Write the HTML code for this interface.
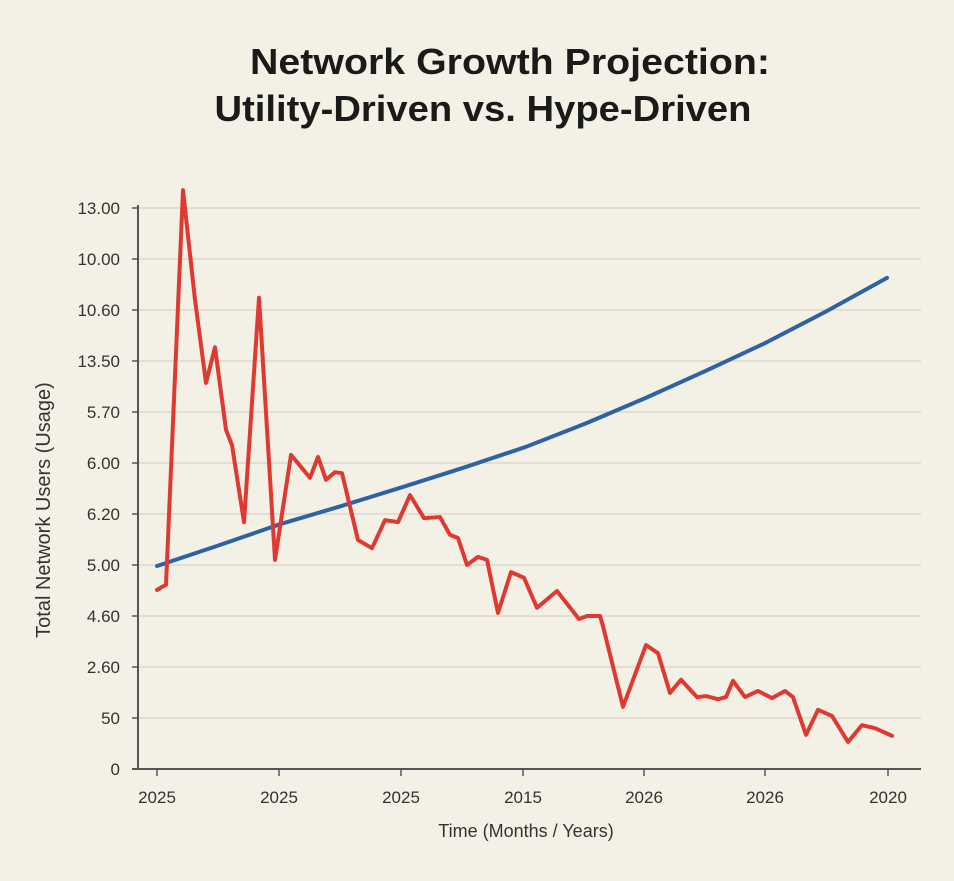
<!DOCTYPE html>
<html><head><meta charset="utf-8">
<style>
html,body{margin:0;padding:0;background:#f3f0e6;}
body{width:954px;height:876px;overflow:hidden;font-family:"Liberation Sans",sans-serif;}
</style></head>
<body>
<svg id="chart" width="954" height="876" xmlns="http://www.w3.org/2000/svg">
<rect width="954" height="876" fill="#f3f0e6"/>
<text x="510" y="74" text-anchor="middle" font-size="36" font-weight="bold" fill="#1a1a1a" textLength="520" lengthAdjust="spacingAndGlyphs">Network Growth Projection:</text>
<text x="483" y="121" text-anchor="middle" font-size="36" font-weight="bold" fill="#1a1a1a" textLength="537" lengthAdjust="spacingAndGlyphs">Utility-Driven vs. Hype-Driven</text>
<text transform="translate(50,510) rotate(-90)" text-anchor="middle" font-size="20" fill="#333">Total Network Users (Usage)</text>
<text x="526" y="837" text-anchor="middle" font-size="18" fill="#333">Time (Months / Years)</text>
<g id="grid"></g><g id="axes"></g><g id="series"></g>
</svg>
<script>
const yTickLabels = ["0","50","2.60","4.60","5.00","6.20","6.00","5.70","13.50","10.60","10.00","13.00"];
const yTickValues = [0,10,20,30,40,50,60,70,80,90,100,110];
const xTickLabels = ["2025","2025","2025","2015","2026","2026","2020"];
const xTickValues = [0,122,244,366,487,608,731];
const hypeX = [0,5,9,26,38,49,58,69,75,87,102,118,134,153,161,169,178,185,201,215,228,241,253,267,283,293,301,310,321,330,341,354,367,380,400,422,430,443,446,466,489,501,513,524,540,549,561,569,576,588,601,615,628,636,649,661,675,691,705,718,735];
const hypeY = [35.1,35.7,36.1,113.5,92.0,75.7,82.7,66.5,63.5,48.4,92.4,41.0,61.6,57.1,61.2,56.7,58.2,58.0,44.9,43.3,48.8,48.4,53.7,49.2,49.4,45.9,45.3,40.0,41.6,41.0,30.6,38.6,37.5,31.6,34.9,29.4,30.0,30.0,28.0,12.2,24.3,22.7,14.9,17.5,14.1,14.3,13.7,14.1,17.3,14.1,15.3,13.9,15.3,14.1,6.7,11.6,10.4,5.3,8.6,8.0,6.5];
const utilX = [0,61,123,185,246,307,368,428,488,548,608,669,730];
const utilY = [39.8,43.8,48.0,51.6,55.3,59.1,63.1,67.7,72.7,78.0,83.5,89.7,96.3];

const NS="http://www.w3.org/2000/svg";
const sx = v => 157 + v;
const sy = v => 769 - v*5.1;
function mk(tag, attrs, parent){const e=document.createElementNS(NS,tag);for(const k in attrs)e.setAttribute(k,attrs[k]);parent.appendChild(e);return e;}
const grid=document.getElementById('grid'), axes=document.getElementById('axes'), series=document.getElementById('series');
yTickValues.forEach((v,i)=>{
  const y=sy(v);
  if(v>0){const g=mk('line',{x1:138,x2:921,y1:y,y2:y,stroke:'#dcd8cb','stroke-width':1.5},grid);
  
  }
  const t=mk('line',{x1:132,x2:138,y1:y,y2:y,stroke:'#555','stroke-width':1.5},axes);
  
  
  const l=mk('text',{x:120,y:y+6,'text-anchor':'end','font-size':17,fill:'#333'},axes);
  l.textContent=yTickLabels[i];
  
  
});
const ya=mk('line',{x1:138,x2:138,y1:205,y2:770,stroke:'#555','stroke-width':2},axes);


const xa=mk('line',{x1:132,x2:921,y1:769,y2:769,stroke:'#555','stroke-width':2},axes);


xTickValues.forEach((v,i)=>{
  const x=sx(v);
  const t=mk('line',{x1:x,x2:x,y1:769,y2:776,stroke:'#555','stroke-width':1.5},axes);
  
  
  const l=mk('text',{x:x,y:803,'text-anchor':'middle','font-size':17,fill:'#333'},axes);
  l.textContent=xTickLabels[i];
  
  
});
const up=mk('polyline',{points:utilX.map((x,i)=>sx(x)+','+sy(utilY[i])).join(' '),fill:'none',stroke:'#2e62a3','stroke-width':4,'stroke-linejoin':'round','stroke-linecap':'round'},series);


const hp=mk('polyline',{points:hypeX.map((x,i)=>sx(x)+','+sy(hypeY[i])).join(' '),fill:'none',stroke:'#de3a32','stroke-width':4,'stroke-linejoin':'round','stroke-linecap':'round'},series);


</script>
</body></html>
